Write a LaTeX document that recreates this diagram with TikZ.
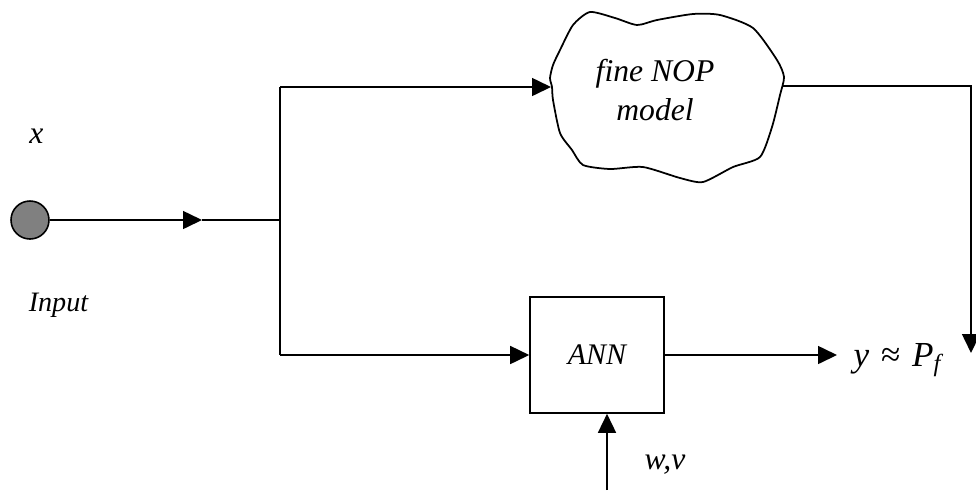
\documentclass[tikz,border=0pt]{standalone}
\usepackage{fontspec}
\setmainfont{Liberation Serif}
\usetikzlibrary{arrows.meta,calc}

\begin{document}
\begin{tikzpicture}[
  line/.style={draw=black,line width=0.9pt},
  flow/.style={line,-{Triangle[length=0.38cm,width=0.36cm]}},
  block/.style={line,minimum width=2.68cm,minimum height=2.32cm,inner sep=0pt},
  label/.style={font=\fontsize{16}{20}\selectfont\itshape,text=black},
  sig/.style={font=\fontsize{18}{20}\selectfont\itshape,text=black},
]
\useasboundingbox (0,0) rectangle (19.52,-9.86);

% Input source
\node[circle,line,fill=black!50,minimum size=0.76cm,inner sep=0pt] (src) at (0.6,-4.4) {};
\node[sig] (xin) at (0.73,-2.73) {x};
\node[label] (inlab) at (1.17,-6.1) {Input};
\coordinate (midin) at (4.04,-4.4);
\coordinate (split) at (5.6,-4.4);
\coordinate (top) at (5.6,-1.74);
\coordinate (bot) at (5.6,-7.1);
\draw[flow] (src) -- (midin);
\draw[line] (midin) -- (split);
\draw[line] (top) -- (bot);

% Fine NOP model cloud
\draw[line,line width=1pt] plot[smooth cycle,tension=0.4] coordinates {
  (11.04,-1.74) (11.0,-1.56) (11.06,-1.3) (11.2,-1.0) (11.46,-0.5)
  (11.8,-0.24) (12.3,-0.36) (12.74,-0.5) (13.14,-0.4) (13.86,-0.28)
  (14.4,-0.3) (15.06,-0.56) (15.54,-1.2) (15.68,-1.54) (15.6,-1.9)
  (15.44,-2.54) (15.2,-3.14) (14.66,-3.34) (14.06,-3.64) (13.6,-3.56)
  (12.86,-3.34) (12.2,-3.38) (11.66,-3.3) (11.44,-3.0) (11.2,-2.66)
  (11.06,-2.0)};
\node[label,font=\fontsize{18}{22}\selectfont\itshape,align=center] (nop) at (13.1,-1.8) {fine NOP\\model};
\coordinate (cloudin) at (11.02,-1.74);
\coordinate (cloudout) at (15.66,-1.72);
\coordinate (rcorner) at (19.42,-1.72);
\coordinate (rtip) at (19.42,-7.06);
\draw[flow] (top) -- (cloudin);
\draw[flow] (cloudout) -- (rcorner) -- (rtip);

% ANN block
\node[block,label,font=\fontsize{17}{20}\selectfont\itshape] (ann) at (11.94,-7.1) {ANN};
\draw[flow] (bot) -- (ann.west);
\node[sig,font=\fontsize{20}{22}\selectfont\itshape,anchor=west] (yout) at (16.95,-7.2) {y\,\,{\upshape≈}\,\,P\textsubscript{f}};
\coordinate (outtip) at (16.74,-7.1);
\draw[flow] (ann.east) -- (outtip);
\coordinate (wvin) at (12.14,-9.8);
\draw[flow] (wvin) -- (wvin |- ann.south);
\node[sig] (wv) at (13.3,-9.3) {w,v};

\end{tikzpicture}
\end{document}
